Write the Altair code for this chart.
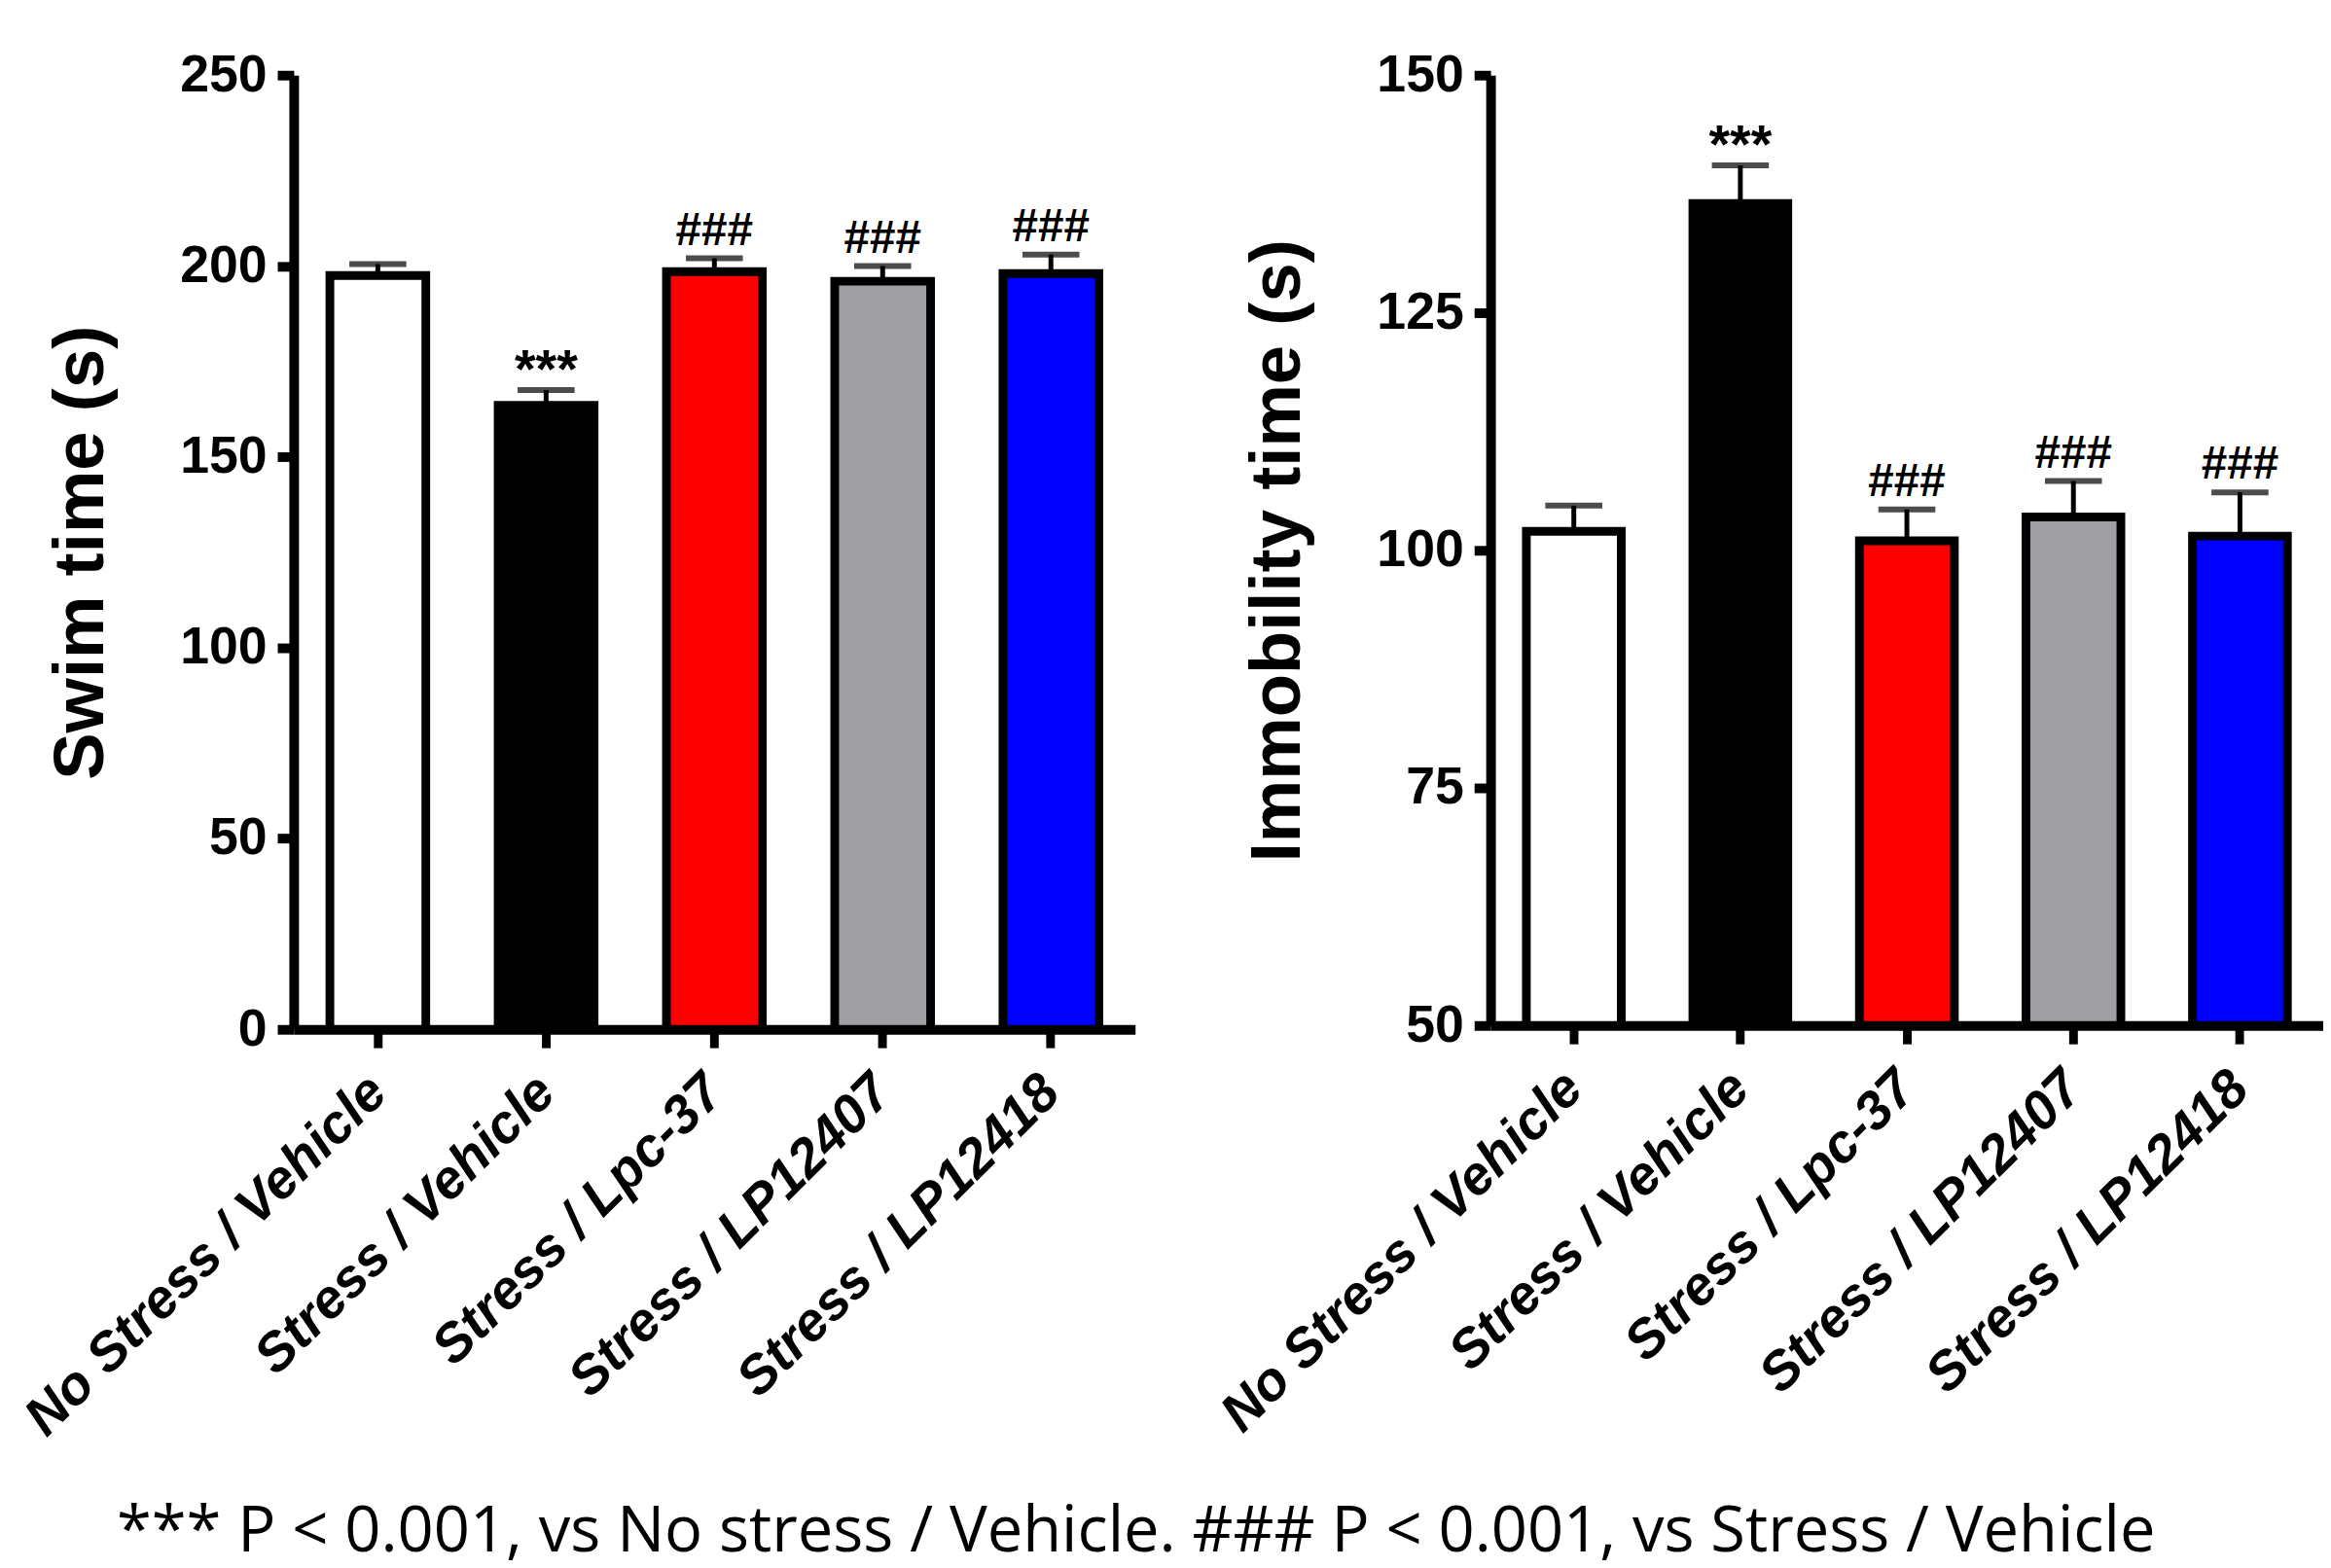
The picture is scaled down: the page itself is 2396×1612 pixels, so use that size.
import altair as alt
import pandas as pd

categories = ["No Stress / Vehicle", "Stress / Vehicle", "Stress / Lpc-37",
              "Stress / LP12407", "Stress / LP12418"]
fill_colors = ["#FFFFFF", "#000000", "#FF0000", "#A0A0A4", "#0000FF"]

swim_mean = [197.5, 163.5, 198.5, 196.0, 198.0]
swim_sem = [3.0, 4.0, 3.5, 4.0, 5.0]
swim_marks = ["", "***", "###", "###", "###"]
swim_ticks = [0, 50, 100, 150, 200, 250]

immob_mean = [102.0, 136.5, 101.0, 103.5, 101.5]
immob_sem = [2.7, 4.0, 3.3, 3.8, 4.6]
immob_marks = ["", "***", "###", "###", "###"]
immob_ticks = [50, 75, 100, 125, 150]

footnote = "*** P < 0.001, vs No stress / Vehicle. ### P < 0.001, vs Stress / Vehicle"


def panel(means, sems, marks, ticks, title, width, height):
    df = pd.DataFrame({
        "group": categories,
        "mean": means,
        "upper": [m + s for m, s in zip(means, sems)],
        "mark": marks,
        "color": fill_colors,
    })
    ymin, ymax = ticks[0], ticks[-1]
    yscale = alt.Scale(domain=[ymin, ymax], nice=False, zero=False)
    yaxis = alt.Axis(
        title=title, titleFont="Liberation Sans", titleFontSize=73,
        titleFontWeight="bold", titleColor="black", titlePadding=65,
        values=ticks, labelFont="Liberation Sans", labelFontSize=54,
        labelFontWeight="bold", labelColor="black", labelPadding=11,
        tickSize=17, tickWidth=10, tickColor="black", domainWidth=10,
        domainColor="black", grid=False,
    )
    x = alt.X(
        "group:N", sort=categories,
        scale=alt.Scale(paddingInner=0.43, paddingOuter=0.215),
        axis=alt.Axis(
            title=None, labelAngle=-45, labelAlign="right", labelBaseline="middle",
            labelFont="Liberation Sans", labelFontSize=56, labelFontWeight="bold",
            labelFontStyle="italic", labelColor="black", labelPadding=37,
            labelLimit=1000, tickSize=19, tickWidth=9, tickColor="black",
            domainWidth=10, domainColor="black", grid=False,
        ),
    )
    base = alt.Chart(df)
    bars = base.mark_bar(stroke="black", strokeWidth=9).encode(
        x=x,
        y=alt.Y("mean:Q", scale=yscale, axis=yaxis),
        y2=alt.datum(ymin),
        fill=alt.Fill("color:N", scale=None),
    )
    stems = base.mark_rule(strokeWidth=5, color="black").encode(
        x=x, y=alt.Y("mean:Q", scale=yscale, axis=yaxis), y2="upper:Q")
    caps = base.mark_tick(thickness=6, size=59, color="black").encode(
        x=x, y=alt.Y("upper:Q", scale=yscale, axis=yaxis))
    hashes = base.transform_filter(alt.datum.mark == "###").mark_text(
        font="Liberation Sans", fontSize=48, fontWeight="bold",
        baseline="alphabetic", dy=-14, color="black").encode(
        x=x, y=alt.Y("upper:Q", scale=yscale, axis=yaxis), text="mark:N")
    stars = base.transform_filter(alt.datum.mark == "***").mark_text(
        font="Liberation Sans", fontSize=56, fontWeight="bold",
        baseline="alphabetic", dy=-3, color="black").encode(
        x=x, y=alt.Y("upper:Q", scale=yscale, axis=yaxis), text="mark:N")
    return alt.layer(bars, stems, caps, hashes, stars).properties(
        width=width, height=height)


left = panel(swim_mean, swim_sem, swim_marks, swim_ticks, "Swim time (s)", 871, 988)
right = panel(immob_mean, immob_sem, immob_marks, immob_ticks,
              "Immobility time (s)", 862, 984)

chart = alt.hconcat(left, right, spacing=368, bounds="flush").properties(
    title=alt.TitleParams(
        footnote, orient="bottom", anchor="start", dx=105, offset=58,
        font="Open Sans", fontSize=65.5, fontWeight="normal", color="black",
    ),
    padding={"left": 7, "top": 37, "right": 0, "bottom": 0},
    background="white",
).configure_view(stroke=None)

chart.save("out.html", embed_options={"renderer": "svg", "actions": False})
